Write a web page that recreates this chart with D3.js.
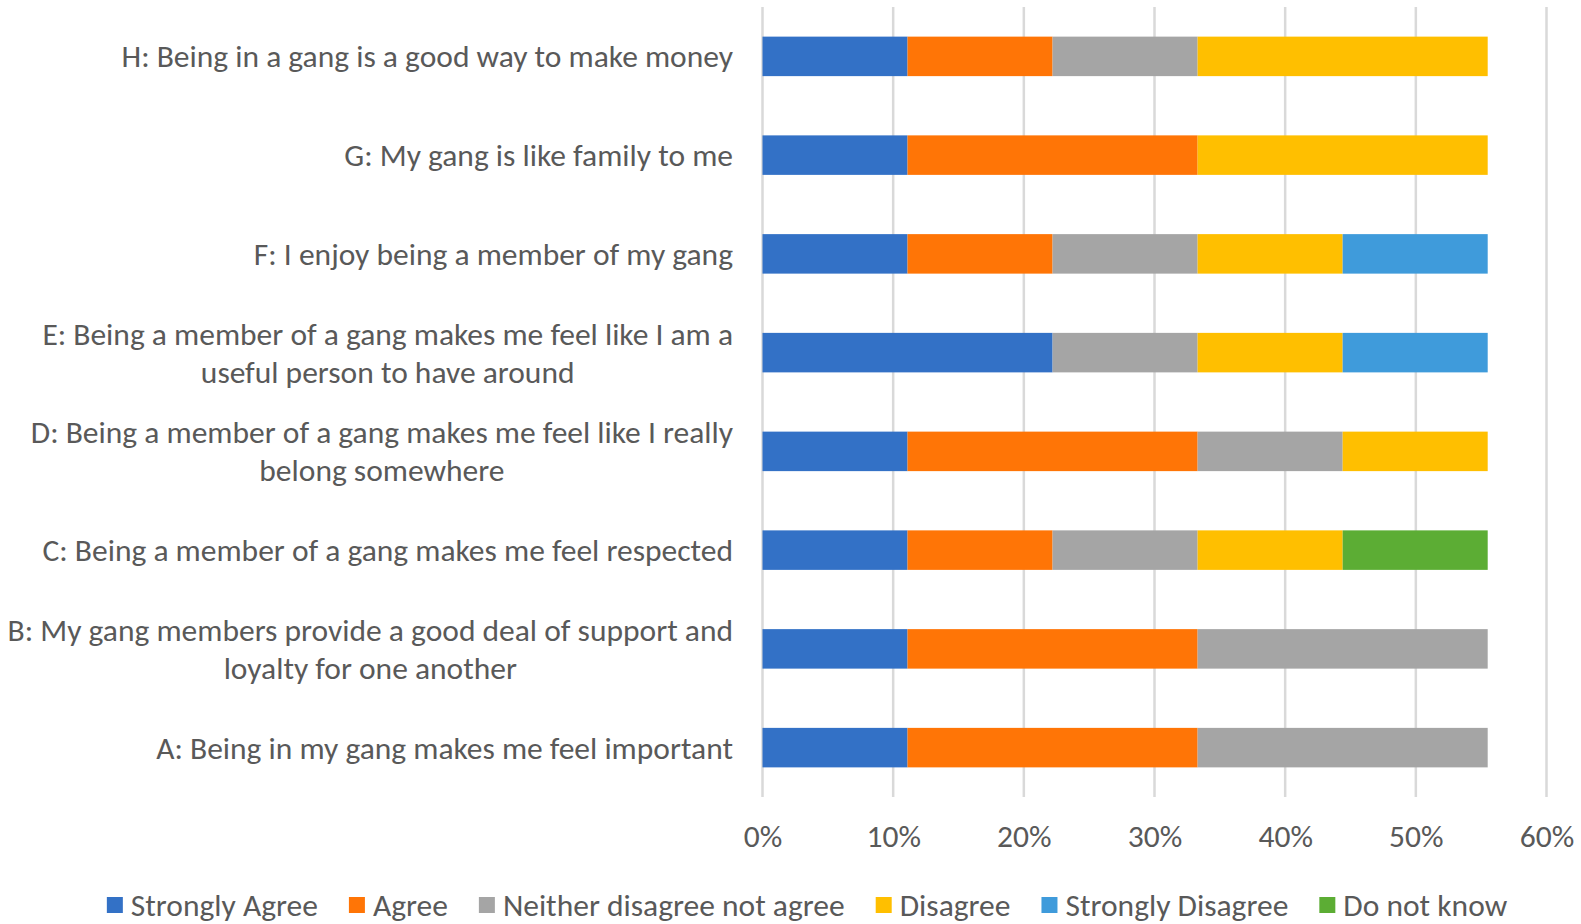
<!DOCTYPE html>
<html>
<head>
<meta charset="utf-8">
<script src="https://cdn.jsdelivr.net/npm/d3@7/dist/d3.min.js"></script>
<style>
  html, body { margin: 0; padding: 0; background: #ffffff; }
  svg { display: block; }
  text { font-family: Carlito, Calibri, Lato, "Open Sans", sans-serif; fill: #595959; }
</style>
</head>
<body>
<svg id="chart" width="1581" height="924"></svg>
<script>
// Statements, listed top to bottom as drawn; "\n" marks a wrapped line
const categories = [
  "H: Being in a gang is a good way to make money",
  "G: My gang is like family to me",
  "F: I enjoy being a member of my gang",
  "E: Being a member of a gang makes me feel like I am a\nuseful person to have around",
  "D: Being a member of a gang makes me feel like I really\nbelong somewhere",
  "C: Being a member of a gang makes me feel respected",
  "B: My gang members provide a good deal of support and\nloyalty for one another",
  "A: Being in my gang makes me feel important"
];

// Share of respondents (%) per response, same order as categories
const stronglyAgree    = [11.1, 11.1, 11.1, 22.2, 11.1, 11.1, 11.1, 11.1];
const agree            = [11.1, 22.2, 11.1,  0.0, 22.2, 11.1, 22.2, 22.2];
const neither          = [11.1,  0.0, 11.1, 11.1, 11.1, 11.1, 22.2, 22.2];
const disagree         = [22.2, 22.2, 11.1, 11.1, 11.1, 11.1,  0.0,  0.0];
const stronglyDisagree = [ 0.0,  0.0, 11.1, 11.1,  0.0,  0.0,  0.0,  0.0];
const doNotKnow        = [ 0.0,  0.0,  0.0,  0.0,  0.0, 11.1,  0.0,  0.0];

const seriesNames = ["Strongly Agree", "Agree", "Neither disagree not agree",
                     "Disagree", "Strongly Disagree", "Do not know"];
const seriesValues = [stronglyAgree, agree, neither, disagree, stronglyDisagree, doNotKnow];
const seriesColors = ["#3371C6", "#FF7506", "#A5A5A5", "#FFBF00", "#3F9BDB", "#5CAD34"];

const xTicks = [0, 10, 20, 30, 40, 50, 60];

// Build a row table for d3.stack
const rows = categories.map((c, i) => {
  const r = { category: c };
  seriesNames.forEach((s, k) => { r[s] = seriesValues[k][i]; });
  return r;
});
const stacked = d3.stack().keys(seriesNames)(rows);

const svg = d3.select("#chart");
const fontSize = 31.5;

const x = d3.scaleLinear().domain([0, 60]).range([762.5, 1546.5]);
const y = d3.scaleBand().domain(categories).range([7, 797])
  .paddingInner(0.6).paddingOuter(0.3);

// Vertical gridlines
svg.append("g").selectAll("line").data(xTicks).join("line")
  .attr("x1", d => x(d)).attr("x2", d => x(d))
  .attr("y1", 7).attr("y2", 797)
  .attr("stroke", "#D9D9D9").attr("stroke-width", 2.5);

// Stacked bars
svg.append("g").selectAll("g").data(stacked).join("g")
  .attr("fill", (d, i) => seriesColors[i])
  .selectAll("rect").data(d => d.filter(p => p[1] - p[0] > 0)).join("rect")
  .attr("x", d => x(d[0]))
  .attr("width", d => x(d[1]) - x(d[0]))
  .attr("y", d => y(d.data.category))
  .attr("height", y.bandwidth());

// X axis tick labels
const xAxis = d3.axisBottom(x).tickValues(xTicks).tickFormat(d => d + "%").tickSize(0).tickPadding(0);
const xg = svg.append("g").attr("transform", "translate(0,826)").call(xAxis);
xg.select(".domain").remove();
xg.selectAll("text").attr("font-size", fontSize).attr("fill", "#595959")
  .attr("font-family", null).attr("dy", null).attr("dominant-baseline", "central")
  .attr("y", 10);

// Category labels: wrapped lines centred within a right-aligned block
const labelRight = 733;
const lineH = 38;
const lg = svg.append("g");
categories.forEach(c => {
  const lines = c.split("\n");
  const cy = y(c) + y.bandwidth() / 2;
  const t = lg.append("text").attr("font-size", fontSize)
    .attr("text-anchor", "middle").attr("dominant-baseline", "central");
  const spans = lines.map((ln, j) => t.append("tspan").text(ln)
    .attr("y", cy + (j - (lines.length - 1) / 2) * lineH));
  const maxW = d3.max(spans, s => s.node().getComputedTextLength());
  spans.forEach(s => s.attr("x", labelRight - maxW / 2));
});

// Legend along the bottom, centred
const legendY = 905;
const sw = 16, gapText = 8, gapItem = 31;
const leg = svg.append("g");
const items = seriesNames.map((name, i) => {
  const g = leg.append("g");
  g.append("rect").attr("width", sw).attr("height", sw)
    .attr("y", legendY - sw / 2).attr("fill", seriesColors[i]);
  const t = g.append("text").text(name).attr("font-size", fontSize)
    .attr("x", sw + gapText).attr("y", legendY).attr("dominant-baseline", "central");
  return { g, w: sw + gapText + t.node().getComputedTextLength() };
});
const totalW = d3.sum(items, d => d.w) + gapItem * (items.length - 1);
let cx = 807 - totalW / 2;
items.forEach(it => { it.g.attr("transform", `translate(${cx},0)`); cx += it.w + gapItem; });
</script>
</body>
</html>
